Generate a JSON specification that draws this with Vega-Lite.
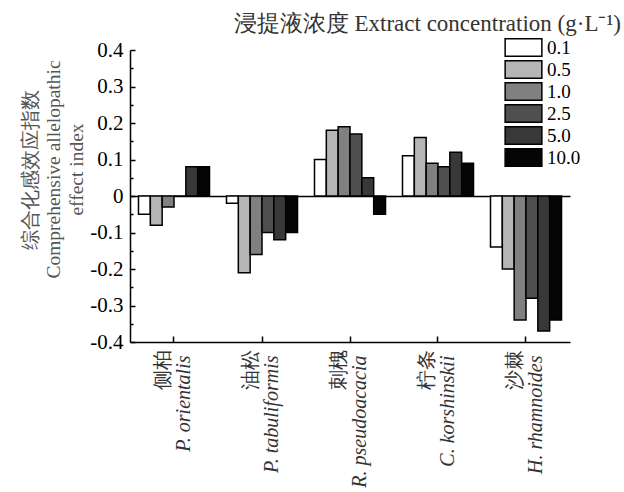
{
  "$schema": "https://vega.github.io/schema/vega-lite/v6.json",
  "width": 440,
  "height": 292,
  "autosize": {"type": "none"},
  "padding": {"left": 130, "top": 50, "right": 54, "bottom": 150},
  "background": "white",
  "config": {"view": {"stroke": null}, "font": "Liberation Serif", "axisY": {"labelOverlap": false}},
  "title": {"text": "浸提液浓度 Extract concentration (g·L⁻¹)", "anchor": "end", "frame": "group", "dx": 51, "offset": 2, "fontSize": 23, "fontWeight": "normal", "color": "#333333", "font": "Liberation Serif"},
  "data": {"values": [
    {"species": "侧柏|P. orientalis", "conc": "0.1", "value": -0.05},
    {"species": "侧柏|P. orientalis", "conc": "0.5", "value": -0.08},
    {"species": "侧柏|P. orientalis", "conc": "1.0", "value": -0.03},
    {"species": "侧柏|P. orientalis", "conc": "2.5", "value": 0},
    {"species": "侧柏|P. orientalis", "conc": "5.0", "value": 0.08},
    {"species": "侧柏|P. orientalis", "conc": "10.0", "value": 0.08},
    {"species": "油松|P. tabuliformis", "conc": "0.1", "value": -0.02},
    {"species": "油松|P. tabuliformis", "conc": "0.5", "value": -0.21},
    {"species": "油松|P. tabuliformis", "conc": "1.0", "value": -0.16},
    {"species": "油松|P. tabuliformis", "conc": "2.5", "value": -0.10},
    {"species": "油松|P. tabuliformis", "conc": "5.0", "value": -0.12},
    {"species": "油松|P. tabuliformis", "conc": "10.0", "value": -0.10},
    {"species": "刺槐|R. pseudoacacia", "conc": "0.1", "value": 0.10},
    {"species": "刺槐|R. pseudoacacia", "conc": "0.5", "value": 0.18},
    {"species": "刺槐|R. pseudoacacia", "conc": "1.0", "value": 0.19},
    {"species": "刺槐|R. pseudoacacia", "conc": "2.5", "value": 0.17},
    {"species": "刺槐|R. pseudoacacia", "conc": "5.0", "value": 0.05},
    {"species": "刺槐|R. pseudoacacia", "conc": "10.0", "value": -0.05},
    {"species": "柠条|C. korshinskii", "conc": "0.1", "value": 0.11},
    {"species": "柠条|C. korshinskii", "conc": "0.5", "value": 0.16},
    {"species": "柠条|C. korshinskii", "conc": "1.0", "value": 0.09},
    {"species": "柠条|C. korshinskii", "conc": "2.5", "value": 0.08},
    {"species": "柠条|C. korshinskii", "conc": "5.0", "value": 0.12},
    {"species": "柠条|C. korshinskii", "conc": "10.0", "value": 0.09},
    {"species": "沙棘|H. rhamnoides", "conc": "0.1", "value": -0.14},
    {"species": "沙棘|H. rhamnoides", "conc": "0.5", "value": -0.20},
    {"species": "沙棘|H. rhamnoides", "conc": "1.0", "value": -0.34},
    {"species": "沙棘|H. rhamnoides", "conc": "2.5", "value": -0.28},
    {"species": "沙棘|H. rhamnoides", "conc": "5.0", "value": -0.37},
    {"species": "沙棘|H. rhamnoides", "conc": "10.0", "value": -0.34}
  ]},
  "layer": [
    {
      "mark": {"type": "bar", "stroke": "black", "strokeWidth": 1.5},
      "encoding": {
        "x": {
          "field": "species", "type": "nominal",
          "sort": ["侧柏|P. orientalis", "油松|P. tabuliformis", "刺槐|R. pseudoacacia", "柠条|C. korshinskii", "沙棘|H. rhamnoides"],
          "scale": {"paddingInner": 0.193, "paddingOuter": 0.0965},
          "axis": {
            "title": null, "labelAngle": -90, "labelAlign": "right", "labelBaseline": "middle",
            "labelExpr": "[split(datum.label, '|')[0], ' ']",
            "labelFont": "Liberation Serif", "labelFontSize": 20, "labelColor": "#333333", "labelLineHeight": 20, "labelPadding": 13, "labelOffset": -11,
            "domainColor": "black", "domainWidth": 1.5, "tickColor": "black", "tickSize": -6, "tickWidth": 1.5
          }
        },
        "xOffset": {
          "field": "conc", "type": "nominal",
          "sort": ["0.1", "0.5", "1.0", "2.5", "5.0", "10.0"],
          "scale": {"paddingInner": 0, "paddingOuter": 0}
        },
        "y": {
          "field": "value", "type": "quantitative",
          "scale": {"domain": [-0.4, 0.4], "nice": false, "zero": false},
          "axis": {
            "title": ["综合化感效应指数", "Comprehensive allelopathic", "effect index"],
            "titleFont": "Liberation Serif", "titleFontSize": 19.5, "titleFontWeight": "normal", "titleColor": "#555555",
            "titleLineHeight": 23, "titleX": -100, "titleY": 119, "titleAlign": "center", "titleBaseline": "middle", "titleAngle": -90,
            "values": [-0.4, -0.35, -0.3, -0.25, -0.2, -0.15, -0.1, -0.05, 0, 0.05, 0.1, 0.15, 0.2, 0.25, 0.3, 0.35, 0.4],
            "labelExpr": "abs(round(datum.value * 100)) % 10 != 0 ? '' : (abs(datum.value) < 0.001 ? '0' : (datum.value < 0 ? '-' : '') + format(abs(datum.value), '.1f'))",
            "labelFont": "Liberation Serif", "labelFontSize": 21, "labelColor": "black", "labelPadding": 12, "labelOverlap": false, "labelSeparation": 0, "labelBound": false, "labelFlush": false,
            "grid": true, "gridColor": "black", "gridWidth": 1.5,
            "gridOpacity": {"condition": {"test": "abs(datum.value) < 0.001", "value": 1}, "value": 0},
            "domainColor": "black", "domainWidth": 1.5, "tickColor": "black", "tickWidth": 1.5,
            "tickSize": {"condition": {"test": "abs(round(datum.value * 100)) % 10 == 0", "value": -5}, "value": -3}
          }
        },
        "fill": {
          "field": "conc", "type": "nominal",
          "scale": {"domain": ["0.1", "0.5", "1.0", "2.5", "5.0", "10.0"], "range": ["#ffffff", "#b5b5b5", "#808080", "#4f4f4f", "#383838", "#050505"]},
          "legend": {
            "title": null, "orient": "none", "legendX": 384, "legendY": -12,
            "symbolType": "M-2.12,-1H2.12V1H-2.12Z", "symbolSize": 300,
            "symbolStrokeColor": "black", "symbolStrokeWidth": 1.5, "symbolOpacity": 1,
            "labelFont": "Liberation Serif", "labelFontSize": 19, "labelOffset": 14, "labelColor": "black", "rowPadding": -4, "padding": 0
          }
        }
      }
    },
    {
      "mark": {"type": "point", "opacity": 0},
      "encoding": {
        "x": {
          "field": "species", "type": "nominal",
          "sort": ["侧柏|P. orientalis", "油松|P. tabuliformis", "刺槐|R. pseudoacacia", "柠条|C. korshinskii", "沙棘|H. rhamnoides"],
          "scale": {"paddingInner": 0.193, "paddingOuter": 0.0965},
          "axis": {
            "orient": "bottom", "title": null, "domain": false, "ticks": false,
            "labelAngle": -90, "labelAlign": "right", "labelBaseline": "middle",
            "labelExpr": "[' ', split(datum.label, '|')[1]]",
            "labelFont": "Liberation Serif", "labelFontSize": 20, "labelFontStyle": "italic", "labelColor": "#333333", "labelLineHeight": 20, "labelPadding": 13, "labelOffset": -11
          }
        }
      }
    }
  ],
  "resolve": {"scale": {"x": "independent"}}
}
